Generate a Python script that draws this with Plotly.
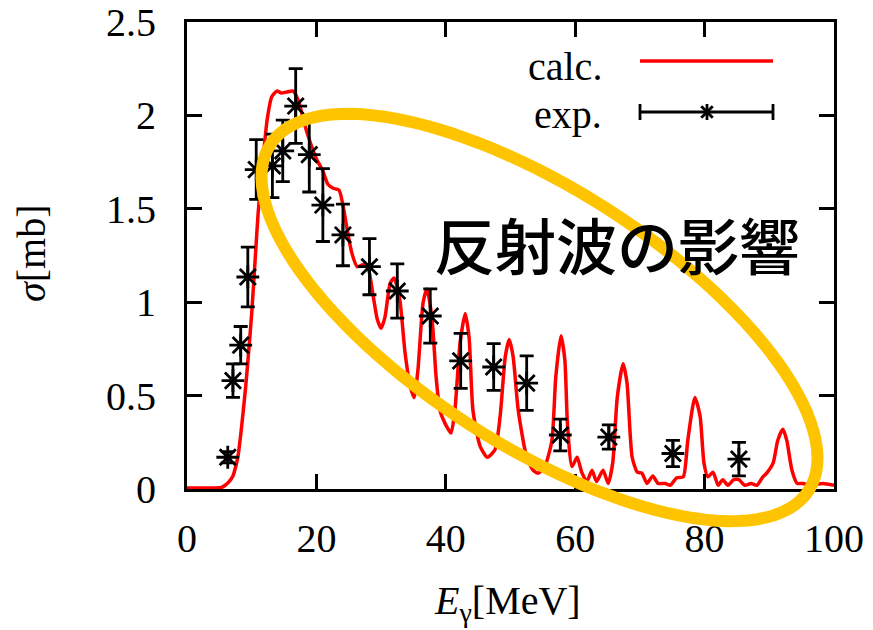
import numpy as np
import plotly.graph_objects as go

# ---- data ----
calc_E = [0, 2, 4, 5.3, 5.9, 6.5, 7.1, 7.6, 7.9, 8.3, 8.7, 9.1, 9.4, 10.0, 10.5, 11.0, 11.7,
          12.4, 13.1, 13.9, 14.6, 15.4, 16.4, 17.2, 18.2, 19.3, 20.1, 20.9, 21.8, 22.6, 23.5,
          24.1, 24.7, 25.5, 26.3, 27.2, 28.0, 28.7, 29.4, 30.0, 30.6, 31.4, 32.0, 32.9, 33.7,
          34.5, 35.1, 35.7, 36.5, 37.1, 37.9, 38.5, 39.1, 39.9, 40.8, 41.4, 42.2, 43.0, 43.6,
          44.2, 45.3, 46.4, 47.6, 48.4, 49.2, 49.8, 50.4, 51.2, 52.5, 53.5, 54.3, 55.3, 56.4,
          57.0, 57.8, 58.4, 58.8, 59.5, 60.3, 61.0, 61.8, 62.6, 63.3, 64.3, 65.1, 65.8, 66.5,
          67.4, 68.0, 68.8, 69.6, 70.3, 71.1, 72.0, 72.8, 73.9, 74.7, 75.7, 76.7, 77.4, 78.5,
          79.3, 79.9, 80.5, 81.3, 82.1, 82.8, 83.6, 84.5, 85.3, 86.2, 87.2, 88.1, 88.9, 89.6,
          90.6, 91.3, 92.1, 92.7, 93.5, 94.3, 95.2, 96.2, 98.3, 100]
calc_sigma = [0.005, 0.005, 0.005, 0.008, 0.02, 0.04, 0.07, 0.13, 0.18, 0.29, 0.42, 0.56, 0.68,
              0.94, 1.21, 1.48, 1.75, 1.98, 2.10, 2.13, 2.12, 2.125, 2.13, 2.08, 1.95, 1.83,
              1.76, 1.71, 1.63, 1.61, 1.60, 1.52, 1.40, 1.26, 1.19, 1.20, 1.18, 1.05, 0.91,
              0.86, 0.92, 1.10, 1.13, 1.01, 0.73, 0.55, 0.49, 0.64, 1.00, 1.07, 0.90, 0.60,
              0.42, 0.35, 0.30, 0.42, 0.78, 0.94, 0.81, 0.42, 0.23, 0.17, 0.21, 0.39, 0.71,
              0.80, 0.71, 0.42, 0.17, 0.10, 0.085, 0.12, 0.26, 0.60, 0.82, 0.69, 0.35, 0.12,
              0.17, 0.09, 0.04, 0.10, 0.04, 0.10, 0.03, 0.14, 0.49, 0.67, 0.57, 0.17, 0.09,
              0.085, 0.03, 0.07, 0.03, 0.03, 0.02, 0.06, 0.065, 0.26, 0.49, 0.39, 0.14, 0.065,
              0.09, 0.02, 0.05, 0.02, 0.05, 0.05, 0.02, 0.03, 0.02, 0.06, 0.085, 0.14, 0.26,
              0.32, 0.26, 0.10, 0.03, 0.03, 0.02, 0.03, 0.02]

exp_E = [6.3, 7.1, 8.3, 9.4, 10.7, 13.2, 14.8, 16.8, 18.9, 21.0, 24.1, 28.2, 32.5, 37.6,
         42.3, 47.4, 52.5, 57.7, 65.2, 75.1, 85.3]
exp_sigma = [0.17, 0.58, 0.77, 1.135, 1.71, 1.73, 1.81, 2.05, 1.79, 1.52, 1.36, 1.19, 1.06,
             0.926, 0.686, 0.653, 0.567, 0.289, 0.278, 0.19, 0.16]
exp_err = [0.03, 0.09, 0.10, 0.16, 0.16, 0.17, 0.165, 0.20, 0.20, 0.195, 0.165, 0.15, 0.145,
           0.145, 0.147, 0.125, 0.146, 0.085, 0.065, 0.07, 0.09]

x_ticks = [0, 20, 40, 60, 80, 100]
y_ticks = [0, 0.5, 1, 1.5, 2, 2.5]
y_ticktext = ["0", "0.5", "1", "1.5", "2", "2.5"]

# ---- layout geometry (pixels) ----
W, H = 873, 630
L, R, T, B = 187, 39, 22, 141
PW, PH = W - L - R, H - T - B


def px2paper(px, py):
    return (px - L) / PW, (H - B - py) / PH


SERIF = "Liberation Serif, Times New Roman, serif"
FS = 40

fig = go.Figure()
fig.add_trace(go.Scatter(
    x=calc_E, y=calc_sigma, mode="lines", name="calc.",
    line=dict(color="#ff0000", width=3.5, shape="spline", smoothing=0.6),
    showlegend=False))
fig.add_trace(go.Scatter(
    x=exp_E, y=exp_sigma, mode="markers", name="exp.",
    marker=dict(symbol="asterisk-open", size=19, color="black",
                line=dict(color="black", width=2.8)),
    error_y=dict(type="data", array=exp_err, visible=True, color="black",
                 thickness=2.8, width=7),
    showlegend=False))

shapes = []
annotations = []

# yellow ellipse (overlay highlight)
cx, cy, a, b, th = 539.5, 317.5, 320.0, 128.0, np.deg2rad(32.7)
t = np.linspace(0, 2 * np.pi, 121)
ex = cx + a * np.cos(t) * np.cos(th) - b * np.sin(t) * np.sin(th)
ey = cy + a * np.cos(t) * np.sin(th) + b * np.sin(t) * np.cos(th)
pts = [px2paper(u, v) for u, v in zip(ex, ey)]
path = "M " + " L ".join(f"{p[0]:.5f},{p[1]:.5f}" for p in pts) + " Z"
shapes.append(dict(type="path", path=path, xref="paper", yref="paper",
                   line=dict(color="#FFC400", width=12), layer="above"))

# custom legend (text left, sample right, gnuplot style)
def seg(x0, y0, x1, y1, color, width):
    p0 = px2paper(x0, y0)
    p1 = px2paper(x1, y1)
    shapes.append(dict(type="line", xref="paper", yref="paper", x0=p0[0], y0=p0[1],
                       x1=p1[0], y1=p1[1], line=dict(color=color, width=width)))


seg(640, 61, 773, 61, "#ff0000", 3.5)
seg(640, 112, 773, 112, "black", 2.8)
seg(640, 104, 640, 120, "black", 2.8)
seg(773, 104, 773, 120, "black", 2.8)
sx, sy, r = 707, 112, 8
seg(sx, sy - r, sx, sy + r, "black", 2.8)
d = r * 0.72
seg(sx - d, sy - d, sx + d, sy + d, "black", 2.8)
seg(sx - d, sy + d, sx + d, sy - d, "black", 2.8)

for txt, ypx in [("calc.", 66), ("exp.", 115)]:
    px_, py_ = px2paper(604, ypx)
    annotations.append(dict(text=txt, x=px_, y=py_, xref="paper", yref="paper",
                            xanchor="right", yanchor="middle", showarrow=False,
                            font=dict(family=SERIF, size=FS, color="black")))

# axis titles
px_, py_ = px2paper(507, 603)
annotations.append(dict(text="<i>E</i><sub>γ</sub>[MeV]", x=px_, y=py_, xref="paper",
                        yref="paper", xanchor="center", yanchor="middle", showarrow=False,
                        font=dict(family=SERIF, size=FS, color="black")))
px_, py_ = px2paper(32, 253)
annotations.append(dict(text="<i>σ</i>[mb]", x=px_, y=py_, xref="paper", yref="paper",
                        xanchor="center", yanchor="middle", showarrow=False, textangle=-90,
                        font=dict(family=SERIF, size=FS, color="black")))

# Japanese overlay label
px_, py_ = px2paper(617, 243)
annotations.append(dict(text="反射波の影響", x=px_, y=py_, xref="paper", yref="paper",
                        xanchor="center", yanchor="middle", showarrow=False,
                        font=dict(family="Noto Sans CJK JP", size=61, color="black",
                                  weight=500)))

axis_common = dict(showline=True, linecolor="black", linewidth=3, mirror="ticks",
                   ticks="inside", ticklen=15, tickwidth=3, tickcolor="black",
                   showgrid=False, zeroline=False,
                   tickfont=dict(family=SERIF, size=FS, color="black"))

fig.update_layout(
    width=W, height=H,
    margin=dict(l=L, r=R, t=T, b=B, autoexpand=False),
    paper_bgcolor="white", plot_bgcolor="white",
    xaxis=dict(range=[0, 100], tickvals=x_ticks, ticklabelstandoff=12, **axis_common),
    yaxis=dict(range=[0, 2.5], tickvals=y_ticks, ticktext=y_ticktext,
               ticklabelstandoff=20, **axis_common),
    shapes=shapes, annotations=annotations, showlegend=False)

fig.write_html("out.html")
